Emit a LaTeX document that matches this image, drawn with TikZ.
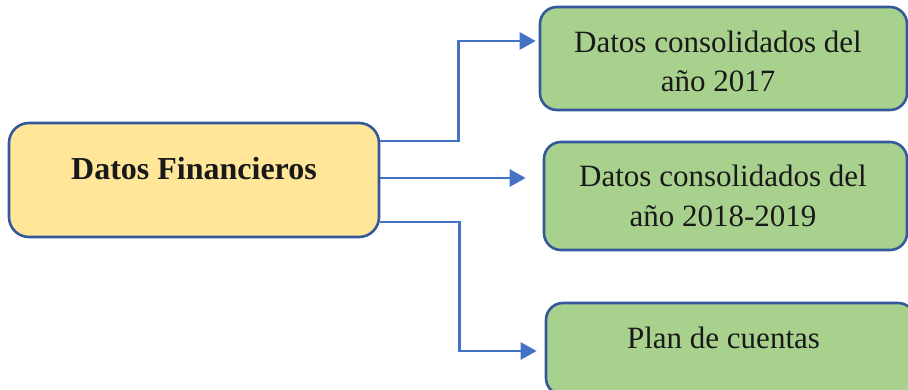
\documentclass[tikz,border=0pt]{standalone}
\usepackage{fontspec}
\setmainfont{Liberation Serif}
\usetikzlibrary{arrows.meta}
\definecolor{boxline}{HTML}{34599A}
\definecolor{arrowblue}{HTML}{4472C4}
\definecolor{headfill}{HTML}{FFE699}
\definecolor{itemfill}{HTML}{A9D18E}
\begin{document}
\begin{tikzpicture}[x=1pt,y=-1pt,
  headbox/.style={draw=boxline, line width=2.6pt, fill=headfill, rounded corners=20pt,
    minimum width=370pt, minimum height=114pt, inner sep=0pt},
  itembox/.style={draw=boxline, line width=2.6pt, fill=itemfill, rounded corners=17pt,
    inner sep=0pt},
  lbl/.style={anchor=base, inner sep=0pt, text=black!90, font=\fontsize{31}{39}\selectfont},
  conn/.style={draw=arrowblue, line width=2.8pt,
    -{Triangle[length=16pt,width=17pt]}}]
  \useasboundingbox (0,0) rectangle (908,390);
  \clip (0,0) rectangle (908,390);

  % main box on the left
  \node[headbox] (fin) at (194,180) {};
  \node[anchor=base, inner sep=0pt, text=black!90, font=\fontsize{32}{38}\bfseries\selectfont]
    (finlbl) at (fin.center) {Datos Financieros};

  % three target boxes
  \node[itembox, minimum width=367pt, minimum height=103pt] (y17) at (723.5,58.5) {};
  \node[itembox, minimum width=363pt, minimum height=108pt] (y18) at (725.5,196) {};
  \node[itembox, minimum width=369pt, minimum height=92pt] (plan) at (730.5,349) {};

  \node[lbl] (y17a) at (718,53) {Datos consolidados del};
  \node[lbl] (y17b) at (718,92) {año 2017};
  \node[lbl] (y18a) at (723,187) {Datos consolidados del};
  \node[lbl] (y18b) at (723,227) {año 2018-2019};
  \node[lbl] (planl) at (723.5,348) {Plan de cuentas};

  % connectors
  \draw[conn] ([yshift=39pt]fin.east) -- ++(78,0) |- ([xshift=-3pt,yshift=17.5pt]y17.west);
  \draw[conn] ([yshift=2pt]fin.east) -- ([xshift=-17pt,yshift=18pt]y18.west);
  \draw[conn] ([yshift=-42pt]fin.east) -- ++(79,0) |- ([xshift=-8pt,yshift=-2pt]plan.west);
\end{tikzpicture}
\end{document}
